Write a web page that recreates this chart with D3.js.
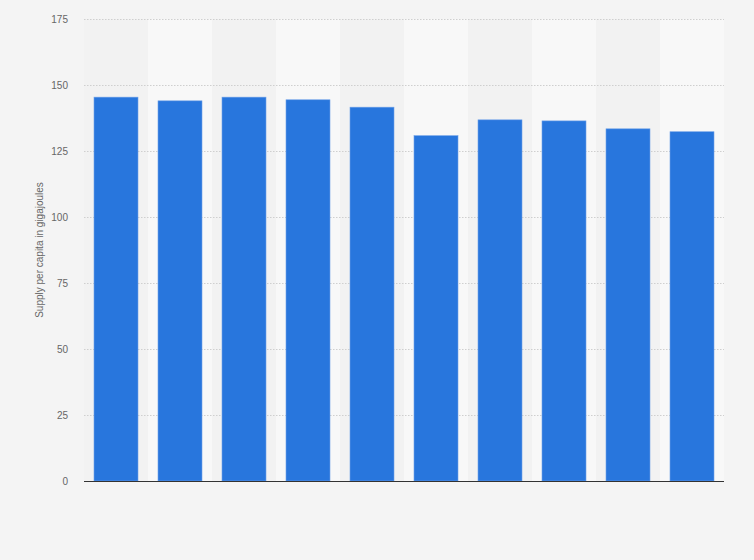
<!DOCTYPE html>
<html>
<head>
<meta charset="utf-8">
<script src="https://cdn.jsdelivr.net/npm/d3@7"></script>
<style>
  html, body { margin: 0; padding: 0; background: #f4f4f4; }
  svg { display: block; font-family: "Liberation Sans", Arial, sans-serif; }
  .grid line { stroke: #cfcfcf; stroke-dasharray: 1.5 1.5; }
  .y-axis text { fill: #666; font-size: 10px; }
  .y-title { fill: #666; font-size: 10px; }
</style>
</head>
<body>
<svg id="chart" width="754" height="560"></svg>
<script>
const WIDTH = 754;
const HEIGHT = 560;
const MARGIN = { top: 19, right: 30, bottom: 79, left: 84 };

// no category labels are shown in the picture, bars are just in order
const CATEGORIES = ["1", "2", "3", "4", "5", "6", "7", "8", "9", "10"];
const VALUES = [145.4, 144.0, 145.4, 144.4, 141.6, 130.8, 136.8, 136.4, 133.4, 132.3];
const Y_TICKS = [0, 25, 50, 75, 100, 125, 150, 175];

const svg = d3.select("#chart");
const innerW = WIDTH - MARGIN.left - MARGIN.right;
const innerH = HEIGHT - MARGIN.top - MARGIN.bottom;

const g = svg.append("g")
  .attr("transform", `translate(${MARGIN.left},${MARGIN.top})`);

const x = d3.scaleBand()
  .domain(CATEGORIES)
  .range([0, innerW])
  .paddingInner(0.3125)
  .paddingOuter(0.15625);

const y = d3.scaleLinear()
  .domain([0, 175])
  .range([innerH, 0]);

const step = x.step();

// alternating column backgrounds
g.append("g")
  .selectAll("rect")
  .data(CATEGORIES)
  .join("rect")
  .attr("x", (d, i) => i * step)
  .attr("y", 0)
  .attr("width", step)
  .attr("height", innerH)
  .attr("fill", (d, i) => (i % 2 ? "#f8f8f8" : "#f2f2f2"));

g.append("g")
  .attr("class", "grid")
  .selectAll("line")
  .data(Y_TICKS.filter((t) => t > 0))
  .join("line")
  .attr("x1", 0)
  .attr("x2", innerW)
  .attr("y1", (d) => y(d) + 0.5)
  .attr("y2", (d) => y(d) + 0.5);

g.append("g")
  .attr("class", "y-axis")
  .call(d3.axisLeft(y).tickValues(Y_TICKS).tickSize(0).tickPadding(16))
  .call((sel) => sel.select(".domain").remove());

g.append("g")
  .selectAll("rect")
  .data(VALUES)
  .join("rect")
  .attr("x", (d, i) => x(CATEGORIES[i]))
  .attr("y", (d) => y(d))
  .attr("width", x.bandwidth())
  .attr("height", (d) => innerH - y(d))
  .attr("fill", "#2876dd")
  .attr("stroke", "#6fa1e8")
  .attr("stroke-width", 0.6);

g.append("line")
  .attr("x1", 0)
  .attr("x2", innerW)
  .attr("y1", innerH + 0.5)
  .attr("y2", innerH + 0.5)
  .attr("stroke", "#333")
  .attr("stroke-width", 1);

svg.append("text")
  .attr("class", "y-title")
  .attr("transform", `translate(43,${MARGIN.top + innerH / 2}) rotate(-90)`)
  .attr("text-anchor", "middle")
  .text("Supply per capita in gigajoules");
</script>
</body>
</html>
